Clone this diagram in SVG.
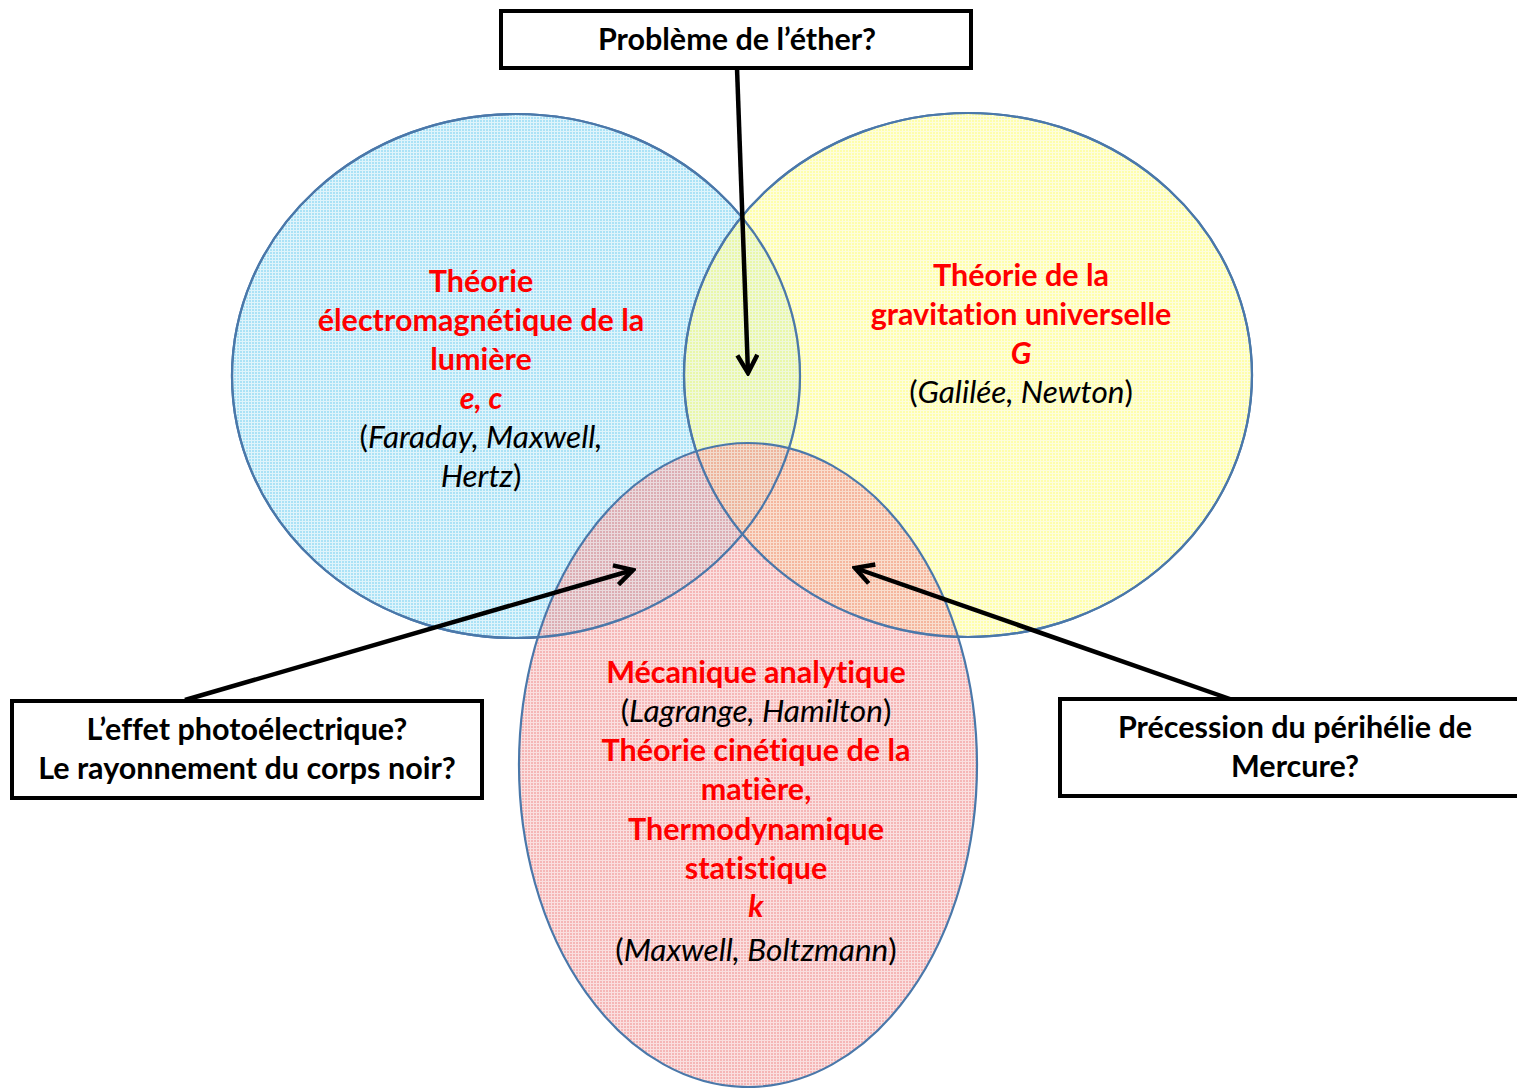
<svg xmlns="http://www.w3.org/2000/svg" width="1517" height="1088" viewBox="0 0 1517 1088">
<style>
text{font-variant-ligatures:none;font-feature-settings:"liga" 0,"dlig" 0}
.ell{stroke:#4a78aa;stroke-width:2.2}
.box{fill:#fff;stroke:#000;stroke-width:4}
.bt{font-family:Lato,"Open Sans",sans-serif;font-weight:bold;font-size:30.5px;fill:#000;text-anchor:middle}
.rt{font-family:Lato,"Open Sans",sans-serif;font-weight:bold;font-size:30.5px;fill:#ff0000;text-anchor:middle}
.nt{font-family:Lato,"Open Sans",sans-serif;font-size:31.5px;fill:#000;text-anchor:middle}
.it{font-style:italic}
.conn{stroke:#000;stroke-width:4.5;fill:none}
</style>
<defs>
<pattern id="pb" width="3" height="3" patternUnits="userSpaceOnUse"><rect width="3" height="3" fill="#c4eaf8" fill-opacity="0.55"/><rect width="2" height="2" fill="#6cccf0" fill-opacity="0.45"/></pattern>
<pattern id="py" width="3" height="3" patternUnits="userSpaceOnUse"><rect width="3" height="3" fill="#fbfbc0" fill-opacity="0.55"/><rect width="2" height="2" fill="#ffff70" fill-opacity="0.45"/></pattern>
<pattern id="pp" width="3" height="3" patternUnits="userSpaceOnUse"><rect width="3" height="3" fill="#f6c0c0" fill-opacity="0.5"/><rect width="2" height="2" fill="#ee7878" fill-opacity="0.4"/></pattern>
<marker id="ah" viewBox="0 0 24 24" refX="21" refY="12" markerWidth="24" markerHeight="24" markerUnits="userSpaceOnUse" orient="auto">
<path d="M3,2 L21,12 L3,22" fill="none" stroke="#000" stroke-width="4.5" stroke-linejoin="miter"/>
</marker>
</defs>
<rect width="1517" height="1088" fill="#fff"/>
<g id="circle-em">
<ellipse class="ell" cx="516" cy="376" rx="284" ry="262" fill="url(#pb)"/>
</g>
<g id="circle-grav">
<ellipse class="ell" cx="968" cy="375" rx="284" ry="262" fill="url(#py)"/>
</g>
<g id="circle-meca">
<ellipse class="ell" cx="748" cy="765" rx="229" ry="322" fill="url(#pp)"/>
</g>
<g id="outlines" fill="none">
<ellipse class="ell" cx="516" cy="376" rx="284" ry="262"/>
<ellipse class="ell" cx="968" cy="375" rx="284" ry="262"/>
</g>
<g id="text-em">
<text class="rt" x="481" y="292">Théorie</text>
<text class="rt" x="481" y="331">électromagnétique de la</text>
<text class="rt" x="481" y="370">lumière</text>
<text class="rt it" x="481" y="409">e, c</text>
<text class="nt" x="481" y="448">(<tspan class="it">Faraday, Maxwell,</tspan></text>
<text class="nt" x="481" y="487"><tspan class="it">Hertz</tspan>)</text>
</g>
<g id="text-grav">
<text class="rt" x="1021" y="286">Théorie de la</text>
<text class="rt" x="1021" y="325">gravitation universelle</text>
<text class="rt it" x="1021" y="364">G</text>
<text class="nt" x="1021" y="403">(<tspan class="it">Galilée, Newton</tspan>)</text>
</g>
<g id="text-meca">
<text class="rt" x="756" y="683">Mécanique analytique</text>
<text class="nt" x="756" y="722">(<tspan class="it">Lagrange, Hamilton</tspan>)</text>
<text class="rt" x="756" y="761">Théorie cinétique de la</text>
<text class="rt" x="756" y="800">matière,</text>
<text class="rt" x="756" y="840">Thermodynamique</text>
<text class="rt" x="756" y="879">statistique</text>
<text class="rt it" x="756" y="917">k</text>
<text class="nt" x="756" y="961">(<tspan class="it">Maxwell, Boltzmann</tspan>)</text>
</g>
<g id="connectors">
<line class="conn" x1="737" y1="68" x2="748" y2="373" marker-end="url(#ah)"/>
<line class="conn" x1="185" y1="700" x2="633" y2="570" marker-end="url(#ah)"/>
<line class="conn" x1="1230" y1="699" x2="855" y2="568" marker-end="url(#ah)"/>
</g>
<g id="box-ether">
<rect class="box" x="501" y="11" width="470" height="57"/>
<text class="bt" x="737" y="50">Problème de l’éther?</text>
</g>
<g id="box-photo">
<rect class="box" x="12" y="701" width="470" height="97"/>
<text class="bt" x="247" y="740">L’effet photoélectrique?</text>
<text class="bt" x="247" y="779">Le rayonnement du corps noir?</text>
</g>
<g id="box-mercure">
<rect class="box" x="1060" y="699" width="470" height="97"/>
<text class="bt" x="1295" y="738">Précession du périhélie de</text>
<text class="bt" x="1295" y="777">Mercure?</text>
</g>
</svg>
